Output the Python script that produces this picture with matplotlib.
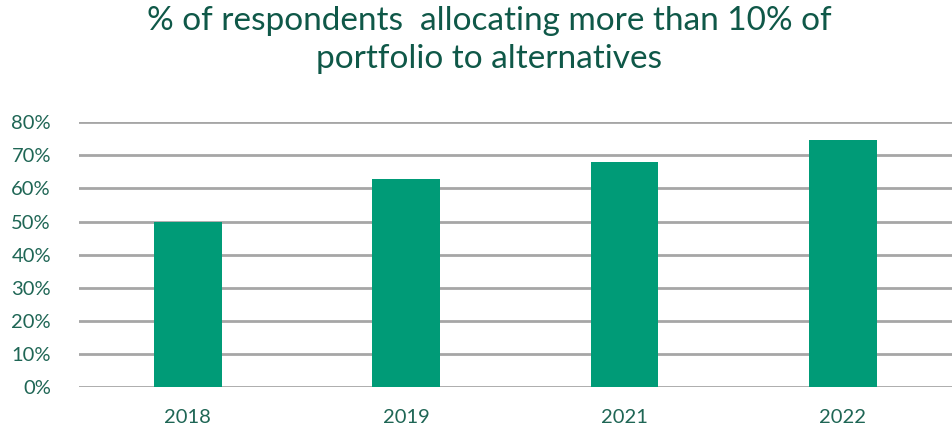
import matplotlib
matplotlib.use('Agg')
import matplotlib.pyplot as plt
from matplotlib.ticker import PercentFormatter

years = ['2018', '2019', '2021', '2022']
share = [50.0, 62.8, 68.0, 74.5]

bar_color = '#009b77'
text_color = '#1f6655'
title_color = '#0f5848'
grid_color = '#a6a6a6'

plt.rcParams['font.family'] = ['Lato', 'DejaVu Sans']

fig = plt.figure(figsize=(9.52, 4.29), dpi=100)
ax = fig.add_axes([0.0827, 0.098, 0.9173, 0.617])

x = range(len(years))
ax.bar(x, share, width=0.31, color=bar_color, zorder=3)

ax.set_ylim(0, 80)
ax.set_xlim(-0.5, len(years) - 0.5)
ax.set_yticks(range(0, 81, 10))
ax.yaxis.set_major_formatter(PercentFormatter(decimals=0))
ax.set_xticks(list(x))
ax.set_xticklabels(years)

ax.grid(axis='y', color=grid_color, linewidth=2, zorder=0)
for s in ax.spines.values():
    s.set_visible(False)
ax.tick_params(axis='both', length=0, labelsize=14.5, colors=text_color)
ax.tick_params(axis='x', pad=16)
ax.tick_params(axis='y', pad=20)

fig.text(0.514, 0.985, '% of respondents  allocating more than 10% of\nportfolio to alternatives',
         ha='center', va='top', fontsize=24, color=title_color, linespacing=1.3)

fig.savefig('out.png', dpi=100)
